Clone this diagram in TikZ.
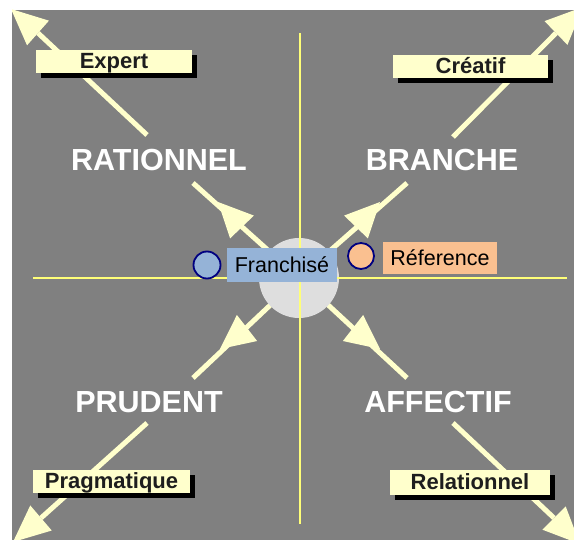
\documentclass[tikz,border=0pt]{standalone}
\usepackage{fontspec}
\setmainfont{Liberation Sans}
\usetikzlibrary{calc,shadows}
\definecolor{bggray}{RGB}{128,128,128}
\definecolor{cream}{RGB}{255,255,204}
\definecolor{axisyellow}{RGB}{255,255,120}
\definecolor{hubgray}{RGB}{222,222,222}
\definecolor{franblue}{RGB}{149,179,215}
\definecolor{reforange}{RGB}{250,192,144}
\definecolor{navyline}{RGB}{0,0,128}
\definecolor{labeltext}{RGB}{30,30,30}
\newcommand\myhead[2]{\fill[cream] (#1) -- ($(#2)!16.5pt!90:(#1)$) -- ($(#2)!16.5pt!-90:(#1)$) -- cycle;}
\tikzset{
  shaft/.style={draw=cream, line width=5pt},
  axisline/.style={draw=axisyellow, line width=1.6pt},
  bigword/.style={text=white, font=\fontsize{30.5}{34}\selectfont\bfseries, inner sep=0pt},
  lbl/.style={fill=cream, text=labeltext, font=\fontsize{22}{26}\selectfont\bfseries, inner sep=0pt,
    text height=16pt, text depth=1pt,
    general shadow={fill=black, shadow xshift=5pt, shadow yshift=-5pt}},
  tagbox/.style={text=black, font=\fontsize{21.5}{25}\selectfont, inner sep=0pt,
    text height=15.5pt, text depth=0.5pt},
  dot/.style={circle, draw=navyline, line width=1.8pt, minimum size=27pt, inner sep=0pt}
}
\begin{document}
\begin{tikzpicture}[x=1pt,y=-1pt]
\useasboundingbox (0,0) rectangle (574,540);
\fill[white] (0,0) rectangle (574,540);
\fill[bggray] (12,10) rectangle (574,540);
\coordinate (c) at (299,278);
% outer segments
\coordinate (nwo1) at (147,135); \coordinate (nwtip) at (11,9);   \coordinate (nwbase) at (38,33);
\coordinate (neo1) at (453,137); \coordinate (netip) at (583,7);  \coordinate (nebase) at (556,33);
\coordinate (swo1) at (147,423); \coordinate (swtip) at (13,542); \coordinate (swbase) at (41,518);
\coordinate (seo1) at (453,423); \coordinate (setip) at (580,544);\coordinate (sebase) at (554,518);
% inner segments
\coordinate (nwi) at (193,183); \coordinate (nwitip) at (218,202); \coordinate (nwibase) at (242,227);
\coordinate (nei) at (407,183); \coordinate (neitip) at (380,202); \coordinate (neibase) at (356,227);
\coordinate (swi) at (193,378); \coordinate (switip) at (220,349); \coordinate (swibase) at (247,328);
\coordinate (sei) at (407,378); \coordinate (seitip) at (380,349); \coordinate (seibase) at (353,328);
\begin{scope}
\clip (12,10) rectangle (574,540);
\draw[shaft] (nwo1) -- (nwbase);
\draw[shaft] (neo1) -- (nebase);
\draw[shaft] (swo1) -- (swbase);
\draw[shaft] (seo1) -- (sebase);
\myhead{nwtip}{nwbase}
\myhead{netip}{nebase}
\myhead{swtip}{swbase}
\myhead{setip}{sebase}
\draw[shaft] (c) -- (nwi);
\draw[shaft] (c) -- (nei);
\draw[shaft] (c) -- (swi);
\draw[shaft] (c) -- (sei);
\myhead{nwitip}{nwibase}
\myhead{neitip}{neibase}
\myhead{switip}{swibase}
\myhead{seitip}{seibase}
\end{scope}
\node[circle, fill=hubgray, minimum size=80pt, inner sep=0pt] (hub) at (c) {};
\coordinate (vtop) at (300,33); \coordinate (vbot) at (300,524);
\coordinate (hleft) at (33,278); \coordinate (hright) at (567,278);
\draw[axisline] (vtop) -- (vbot);
\draw[axisline] (hleft) -- (hright);
% big words
\node[bigword] (rat) at (159,160) {RATIONNEL};
\node[bigword] (bra) at (442,160) {BRANCHE};
\node[bigword] (pru) at (149,402) {PRUDENT};
\node[bigword] (aff) at (438,402) {AFFECTIF};
% labels
\node[lbl, minimum width=156pt, minimum height=23pt] (exp) at (114,61.5) {Expert};
\node[lbl, minimum width=155pt, minimum height=23pt] (cre) at (470.5,66.5) {Créatif};
\node[lbl, minimum width=157pt, minimum height=23pt] (pra) at (111.5,481.5) {Pragmatique};
\node[lbl, minimum width=160pt, minimum height=25pt] (rel) at (470,482.5) {Relationnel};
% tags
\node[dot, fill=franblue] (fdot) at (207,265) {};
\node[tagbox, fill=franblue, minimum width=110pt, minimum height=34pt] (fran) at (282,265) {Franchisé};
\node[dot, fill=reforange, minimum size=26pt] (rdot) at (361,256) {};
\node[tagbox, fill=reforange, minimum width=114pt, minimum height=32pt] (ref) at (440,258) {Réference};
\end{tikzpicture}
\end{document}
